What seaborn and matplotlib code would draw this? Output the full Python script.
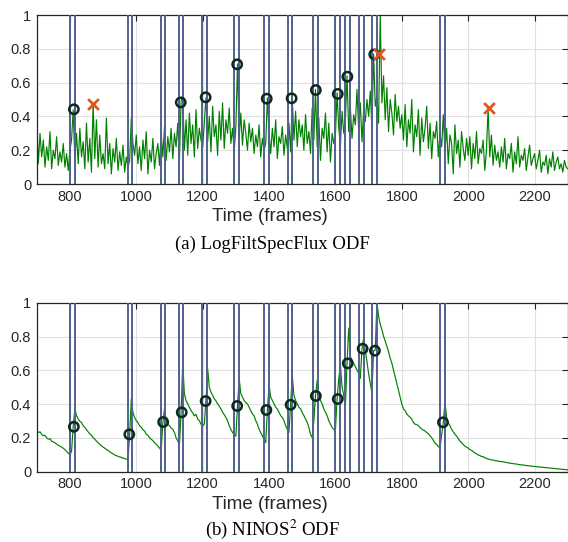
import numpy as np
import pandas as pd
import matplotlib
matplotlib.use("Agg")
import matplotlib.pyplot as plt
import seaborn as sns

# ODF values, one value every 5 frames from 700 to 2300
frames = list(range(700, 2301, 5))

flux_odf = [
    0.37, 0.12, 0.30, 0.16, 0.26, 0.10, 0.22, 0.14, 0.31, 0.09, 0.20, 0.15, 0.28, 0.11, 0.19, 0.13, 0.24, 0.10, 0.18, 0.08,
    0.20, 0.26, 0.44, 0.14, 0.30, 0.12, 0.33, 0.16, 0.25, 0.09, 0.36, 0.13, 0.27, 0.07, 0.48, 0.15, 0.38, 0.10, 0.29, 0.12,
    0.18, 0.09, 0.39, 0.12, 0.24, 0.06, 0.21, 0.13, 0.27, 0.08, 0.19, 0.11, 0.23, 0.07, 0.16, 0.10, 0.14, 0.39, 0.24, 0.17,
    0.29, 0.12, 0.22, 0.08, 0.26, 0.15, 0.31, 0.06, 0.20, 0.13, 0.27, 0.09, 0.18, 0.24, 0.11, 0.30, 0.16, 0.34, 0.14, 0.28,
    0.19, 0.33, 0.15, 0.30, 0.22, 0.36, 0.13, 0.49, 0.52, 0.20, 0.38, 0.17, 0.42, 0.24, 0.35, 0.16, 0.44, 0.21, 0.33, 0.26,
    0.22, 0.37, 0.51, 0.25, 0.40, 0.19, 0.46, 0.28, 0.35, 0.17, 0.43, 0.26, 0.48, 0.21, 0.38, 0.30, 0.45, 0.24, 0.33, 0.19,
    0.34, 0.71, 0.27, 0.42, 0.23, 0.38, 0.30, 0.20, 0.36, 0.25, 0.33, 0.18, 0.29, 0.22, 0.35, 0.16, 0.27, 0.20, 0.24, 0.51,
    0.30, 0.18, 0.33, 0.22, 0.38, 0.15, 0.28, 0.24, 0.34, 0.17, 0.29, 0.21, 0.36, 0.19, 0.51, 0.26, 0.43, 0.22, 0.38, 0.28,
    0.35, 0.20, 0.41, 0.24, 0.31, 0.18, 0.45, 0.26, 0.56, 0.22, 0.39, 0.14, 0.33, 0.27, 0.42, 0.19, 0.36, 0.13, 0.30, 0.24,
    0.29, 0.54, 0.33, 0.23, 0.43, 0.30, 0.38, 0.64, 0.31, 0.45, 0.27, 0.41, 0.35, 0.56, 0.32, 0.48, 0.25, 0.44, 0.37, 0.50,
    0.40, 0.55, 0.33, 0.77, 0.46, 0.52, 0.36, 1.00, 0.48, 0.64, 0.38, 0.57, 0.31, 0.50, 0.42, 0.29, 0.53, 0.37, 0.46, 0.33,
    0.41, 0.26, 0.47, 0.22, 0.38, 0.30, 0.50, 0.19, 0.35, 0.28, 0.44, 0.17, 0.39, 0.25, 0.33, 0.46, 0.21, 0.36, 0.15, 0.31,
    0.27, 0.37, 0.16, 0.30, 0.22, 0.41, 0.19, 0.33, 0.12, 0.29, 0.24, 0.06, 0.35, 0.18, 0.26, 0.10, 0.31, 0.21, 0.14, 0.27,
    0.17, 0.28, 0.09, 0.24, 0.15, 0.31, 0.12, 0.21, 0.18, 0.26, 0.08, 0.20, 0.45, 0.16, 0.29, 0.11, 0.23, 0.14, 0.19, 0.10,
    0.22, 0.13, 0.27, 0.09, 0.18, 0.15, 0.24, 0.07, 0.19, 0.12, 0.28, 0.10, 0.17, 0.14, 0.21, 0.08, 0.16, 0.23, 0.11, 0.15,
    0.18, 0.09, 0.14, 0.20, 0.07, 0.13, 0.11, 0.17, 0.06, 0.15, 0.10, 0.19, 0.08, 0.13, 0.16, 0.09, 0.12, 0.07, 0.14, 0.10,
    0.09,
]

ninos_odf = [
    0.240, 0.232, 0.236, 0.221, 0.212, 0.216, 0.201, 0.192, 0.196, 0.181, 0.176, 0.171, 0.164, 0.156, 0.151, 0.146, 0.139, 0.131, 0.121, 0.110,
    0.100, 0.120, 0.270, 0.370, 0.331, 0.312, 0.298, 0.291, 0.272, 0.262, 0.249, 0.236, 0.223, 0.216, 0.201, 0.193, 0.181, 0.172, 0.162, 0.153,
    0.146, 0.139, 0.131, 0.126, 0.118, 0.111, 0.106, 0.099, 0.095, 0.091, 0.087, 0.085, 0.081, 0.077, 0.075, 0.070, 0.220, 0.430, 0.350, 0.321,
    0.302, 0.291, 0.272, 0.263, 0.248, 0.241, 0.222, 0.216, 0.201, 0.192, 0.184, 0.171, 0.163, 0.151, 0.141, 0.125, 0.290, 0.370, 0.302, 0.281,
    0.272, 0.259, 0.251, 0.232, 0.201, 0.182, 0.160, 0.350, 0.640, 0.462, 0.421, 0.402, 0.381, 0.362, 0.348, 0.331, 0.339, 0.311, 0.302, 0.281,
    0.270, 0.282, 0.420, 0.610, 0.501, 0.472, 0.451, 0.432, 0.419, 0.402, 0.388, 0.371, 0.352, 0.338, 0.321, 0.302, 0.272, 0.251, 0.232, 0.221,
    0.210, 0.390, 0.550, 0.462, 0.441, 0.422, 0.409, 0.401, 0.382, 0.361, 0.342, 0.331, 0.302, 0.281, 0.252, 0.231, 0.212, 0.191, 0.172, 0.365,
    0.510, 0.441, 0.422, 0.401, 0.382, 0.371, 0.352, 0.332, 0.321, 0.302, 0.272, 0.251, 0.232, 0.396, 0.570, 0.452, 0.421, 0.402, 0.381, 0.372,
    0.350, 0.332, 0.311, 0.292, 0.262, 0.221, 0.202, 0.300, 0.448, 0.540, 0.462, 0.421, 0.402, 0.371, 0.352, 0.331, 0.302, 0.281, 0.262, 0.250,
    0.250, 0.430, 0.550, 0.630, 0.502, 0.451, 0.390, 0.641, 0.850, 0.681, 0.662, 0.641, 0.622, 0.601, 0.582, 0.552, 0.728, 0.790, 0.716, 0.652,
    0.580, 0.522, 0.470, 0.716, 0.720, 1.000, 0.921, 0.872, 0.841, 0.802, 0.771, 0.742, 0.712, 0.671, 0.642, 0.601, 0.562, 0.521, 0.482, 0.441,
    0.400, 0.372, 0.361, 0.342, 0.331, 0.322, 0.311, 0.292, 0.281, 0.279, 0.272, 0.261, 0.252, 0.246, 0.241, 0.231, 0.226, 0.212, 0.201, 0.186,
    0.170, 0.161, 0.150, 0.140, 0.220, 0.292, 0.410, 0.322, 0.291, 0.272, 0.251, 0.236, 0.221, 0.211, 0.196, 0.181, 0.171, 0.161, 0.151, 0.146,
    0.140, 0.131, 0.126, 0.119, 0.111, 0.106, 0.099, 0.096, 0.090, 0.089, 0.082, 0.080, 0.075, 0.073, 0.070, 0.069, 0.066, 0.065, 0.062, 0.061,
    0.060, 0.059, 0.056, 0.055, 0.052, 0.051, 0.049, 0.048, 0.046, 0.046, 0.043, 0.042, 0.040, 0.040, 0.038, 0.037, 0.035, 0.035, 0.033, 0.032,
    0.031, 0.030, 0.029, 0.028, 0.027, 0.026, 0.025, 0.024, 0.023, 0.022, 0.021, 0.020, 0.019, 0.018, 0.017, 0.016, 0.015, 0.014, 0.013, 0.012,
    0.011,
]

# ground-truth onset windows (start / end frame)
onset_start = [800, 974, 1076, 1129, 1199, 1295, 1385, 1456, 1532, 1600, 1629, 1671, 1711, 1915]
onset_end = [815, 986, 1088, 1142, 1212, 1308, 1399, 1469, 1547, 1614, 1644, 1686, 1726, 1929]

# detections: hits (circles) and false positives (crosses)
flux_hit_x = [812, 1134, 1209, 1304, 1393, 1468, 1541, 1607, 1636, 1717]
flux_hit_y = [0.442, 0.483, 0.513, 0.708, 0.505, 0.507, 0.556, 0.533, 0.635, 0.767]
flux_fp_x = [869, 1732, 2062]
flux_fp_y = [0.472, 0.767, 0.448]

ninos_hit_x = [812, 979, 1081, 1137, 1209, 1304, 1392, 1465, 1541, 1607, 1637, 1682, 1719, 1924]
ninos_hit_y = [0.266, 0.221, 0.294, 0.351, 0.418, 0.389, 0.365, 0.396, 0.448, 0.430, 0.641, 0.728, 0.716, 0.292]

xticks = [800, 1000, 1200, 1400, 1600, 1800, 2000, 2200]
yticks = [0, 0.2, 0.4, 0.6, 0.8, 1]

sns.set_theme(style="white")
plt.rcParams['font.family'] = ['Liberation Sans', 'DejaVu Sans']
plt.rcParams['mathtext.fontset'] = 'stix'

fig = plt.figure(figsize=(5.68, 5.42), dpi=100)
ax_a = fig.add_axes([0.0646, 0.6605, 0.935, 0.3118])
ax_b = fig.add_axes([0.0646, 0.1297, 0.935, 0.3118])

green = '#008000'
navy = '#51618c'


def draw_panel(ax, odf, hit_x, hit_y, fp_x=None, fp_y=None):
    df = pd.DataFrame({'frame': frames, 'odf': odf})
    sns.lineplot(data=df, x='frame', y='odf', ax=ax, color=green, lw=0.85, zorder=2)
    for s, e in zip(onset_start, onset_end):
        ax.axvline(s, color=navy, lw=1.4, zorder=3)
        ax.axvline(e, color=navy, lw=1.4, zorder=3)
    sns.scatterplot(x=hit_x, y=hit_y, ax=ax, s=45, marker='o', facecolor='none',
                    edgecolor='#0c2a1c', linewidth=1.8, zorder=5)
    if fp_x is not None:
        sns.scatterplot(x=fp_x, y=fp_y, ax=ax, s=60, marker='x', color='#e0561c',
                        linewidth=2.0, zorder=5)
    ax.set_xlim(700, 2300)
    ax.set_ylim(0, 1)
    ax.set_xticks(xticks)
    ax.set_yticks(yticks)
    ax.set_yticklabels([f"{v:g}" for v in yticks])
    ax.grid(True, color='#e0e0e0', lw=0.8, zorder=0)
    ax.set_axisbelow(True)
    ax.tick_params(direction='in', length=4, width=0.8, top=True, right=True,
                   labelsize=10.5, colors='#262626', pad=4)
    for sp in ax.spines.values():
        sp.set_color('#262626')
        sp.set_linewidth(0.9)
    ax.set_ylabel('')
    ax.set_xlabel('Time (frames)', fontsize=13.5, color='#262626')
    ax.xaxis.set_label_coords(0.439, -0.195)
    ax.xaxis.label.set_va('center')


draw_panel(ax_a, flux_odf, flux_hit_x, flux_hit_y, flux_fp_x, flux_fp_y)
draw_panel(ax_b, ninos_odf, ninos_hit_x, ninos_hit_y)

fig.text(0.479, 1 - 244 / 542, '(a) LogFiltSpecFlux ODF', ha='center', va='center',
         fontsize=13.5, family='Liberation Serif', color='black')
fig.text(0.479, 1 - 529 / 542, r'(b) NINOS$^2$ ODF', ha='center', va='center',
         fontsize=13.5, family='Liberation Serif', color='black')

fig.savefig('out.png', dpi=100)
